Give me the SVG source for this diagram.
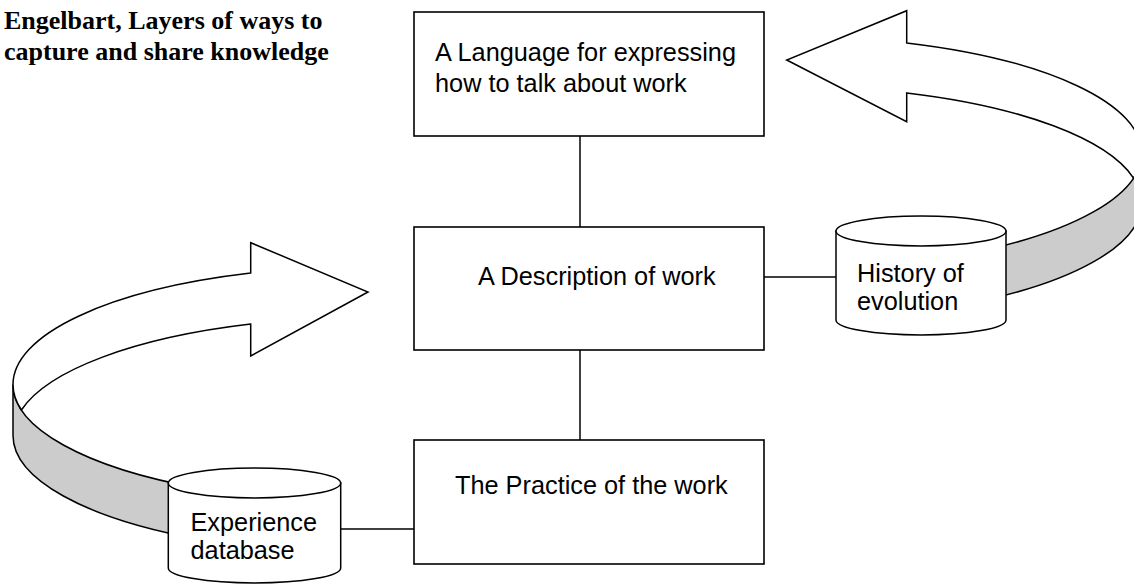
<svg xmlns="http://www.w3.org/2000/svg" width="1134" height="584" viewBox="0 0 1134 584">
<style>
.ln{fill:none;stroke:#000;stroke-width:1.5}
.bx{fill:#fff;stroke:#000;stroke-width:1.6}
.wh{fill:#fff;stroke:#000;stroke-width:1.5;stroke-linejoin:miter}
.gr{fill:#cccccc;stroke:#000;stroke-width:1.5}
.t{font-family:"Liberation Sans",Arial,sans-serif;font-size:25.3px;fill:#000}
.ttl{font-family:"Liberation Serif","Times New Roman",serif;font-weight:bold;font-size:26px;fill:#000}
</style>
<rect width="1134" height="584" fill="#fff"/>
<g id="title">
<text class="ttl" x="4" y="28.5">Engelbart, Layers of ways to</text>
<text class="ttl" x="4" y="60">capture and share knowledge</text>
</g>
<g id="arrow-left">
<path class="gr" d="M13 384.5 A355 118 0 0 0 200 488.4 L200 539.4 A355 118 0 0 1 13 435.5 Z"/>
<path class="wh" d="M13 384.5 A355 118 0 0 1 250.7 273.1 L250.7 242.7 L368 292 L250.7 356 L250.7 324.1 A355 118 0 0 0 21.4 410 A355 118 0 0 1 13 384.5 Z"/>
</g>
<g id="arrow-right">
<path class="gr" d="M1141.7 153 A355 117 0 0 1 960 255.1 L960 305.1 A355 117 0 0 0 1141.7 203 Z"/>
<path class="wh" d="M906.7 42.9 A355 117 0 0 1 1141.7 153 A355 117 0 0 1 1133.5 178 A355 117 0 0 0 906.7 92.9 L906.7 121.7 L786.7 60 L906.7 10.7 Z"/>
</g>
<g id="connectors">
<line class="ln" x1="580" y1="136" x2="580" y2="232"/>
<line class="ln" x1="580" y1="350" x2="580" y2="447"/>
<line class="ln" x1="764" y1="277" x2="836" y2="277"/>
<line class="ln" x1="340.7" y1="529" x2="414" y2="529"/>
</g>
<g id="box-language">
<rect class="bx" x="414" y="12" width="350" height="124"/>
<text class="t" x="435" y="60.5">A Language for expressing</text>
<text class="t" x="435" y="91.5">how to talk about work</text>
</g>
<g id="box-description">
<rect class="bx" x="414" y="227" width="350" height="123"/>
<text class="t" x="478" y="285">A Description of work</text>
</g>
<g id="box-practice">
<rect class="bx" x="414" y="440" width="350" height="124"/>
<text class="t" x="455" y="494">The Practice of the work</text>
</g>
<g id="cyl-history">
<path class="wh" d="M836 231 V320 A85 15 0 0 0 1006 320 V231 Z"/>
<ellipse class="wh" cx="921" cy="231" rx="85" ry="15"/>
<text class="t" x="857" y="281.5">History of</text>
<text class="t" x="857" y="310">evolution</text>
</g>
<g id="cyl-experience">
<path class="wh" d="M168.3 483 V568 A86.2 15 0 0 0 340.7 568 V483 Z"/>
<ellipse class="wh" cx="254.5" cy="483" rx="86.2" ry="15"/>
<text class="t" x="190.5" y="530.5">Experience</text>
<text class="t" x="190.5" y="558.5">database</text>
</g>
</svg>
